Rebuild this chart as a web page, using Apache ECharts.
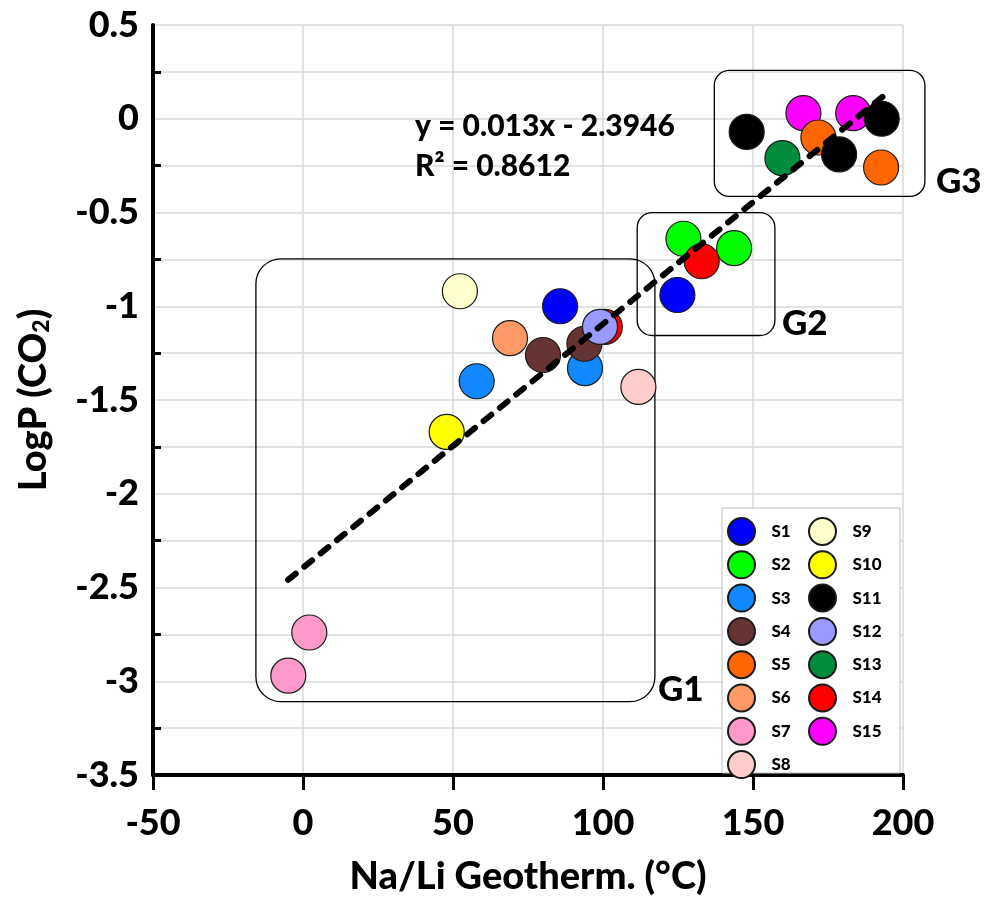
<!DOCTYPE html>
<html>
<head>
<meta charset="utf-8">
<script src="https://cdn.jsdelivr.net/npm/echarts@6/dist/echarts.min.js"></script>
<style>
html,body{margin:0;padding:0;background:#fff;}
#c{width:985px;height:907px;}
</style>
</head>
<body>
<div id="c"></div>
<script>
// ---- data (Na/Li geothermometer °C, LogP CO2) ----
const S1  = [[85.7, -1.00], [124.8, -0.94]];
const S2  = [[126.8, -0.64], [143.7, -0.69]];
const S3  = [[57.9, -1.40], [94.0, -1.33]];
const S4  = [[80.0, -1.26], [93.8, -1.20]];
const S5  = [[171.8, -0.10], [192.7, -0.26]];
const S6  = [[69.0, -1.17]];
const S7  = [[2.1, -2.74], [-4.9, -2.97]];
const S8  = [[111.8, -1.43]];
const S9  = [[52.3, -0.92]];
const S10 = [[47.9, -1.67]];
const S11 = [[147.9, -0.07], [192.9, 0.00], [178.7, -0.19]];
const S12 = [[99.0, -1.11]];
const S13 = [[159.8, -0.21]];
const S14 = [[100.6, -1.11], [132.9, -0.76]];
const S15 = [[166.8, 0.03], [183.4, 0.03]];

const seriesNames = ['S1','S2','S3','S4','S5','S6','S7','S8','S9','S10','S11','S12','S13','S14','S15'];
const seriesColors = ['#0000ff','#00ff00','#1188ff','#663333','#ff6600','#ff9966','#ff99cc','#ffcccc',
                      '#ffffcc','#ffff00','#000000','#9999ff','#008c3c','#ff0000','#ff00ff'];
const seriesData = {S1,S2,S3,S4,S5,S6,S7,S8,S9,S10,S11,S12,S13,S14,S15};
const drawOrder = ['S15','S1','S2','S3','S4','S5','S6','S7','S8','S9','S10','S13','S14','S11','S12'];

// linear trend line
const trendSlope = 0.013;
const trendIntercept = -2.3946;
const trendXRange = [-5, 194];
const equationText = 'y = 0.013x - 2.3946';
const r2Text = 'R² = 0.8612';

// group annotation boxes in data units: [xMin, yMax, xMax, yMin]
const groupBoxes = [
  {name:'G1', box:[-15.7, -0.747, 117.3, -3.109], r:25},
  {name:'G2', box:[111.4, -0.501, 157.3, -1.156], r:15},
  {name:'G3', box:[137.1, 0.258, 207.3, -0.414], r:15}
];

const FONT = 'Lato';
const FW = 900;
const chart = echarts.init(document.getElementById('c'), null, {renderer:'canvas'});

const series = drawOrder.map(function(n){
  const i = seriesNames.indexOf(n);
  return {
    name: n, type:'scatter', data: seriesData[n],
    symbol:'circle', symbolSize:35,
    itemStyle:{color:seriesColors[i], borderColor:'#1a1a1a', borderWidth:1.2, opacity:1},
    emphasis:{disabled:true}, z:2
  };
});
series.push({
  name:'trend', type:'line', symbol:'none', silent:true, z:6,
  data: trendXRange.map(function(x){ return [x, trendSlope*x + trendIntercept]; }),
  lineStyle:{color:'#000', width:6, type:[10,11], cap:'round'}
});

const legendCommon = {
  orient:'vertical', itemWidth:50, itemHeight:27, itemGap:4.3,
  icon:'circle', selectedMode:false, padding:0,
  textStyle:{fontFamily:FONT, fontWeight:FW, fontSize:17, color:'#000'},
  z:5
};

chart.setOption({
  backgroundColor:'#fff',
  animation:false,
  grid:{left:153, right:82, top:25, bottom:132, containLabel:false, outerBoundsMode:'none'},
  xAxis:{
    type:'value', min:-50, max:200, interval:50,
    name:'Na/Li Geotherm. (°C)', nameLocation:'middle', nameGap:83,
    nameTextStyle:{fontFamily:FONT, fontWeight:FW, fontSize:38, color:'#000'},
    axisLine:{show:true, onZero:false, lineStyle:{color:'#000', width:4}},
    axisTick:{show:true, inside:false, length:15, lineStyle:{color:'#000', width:3}},
    axisLabel:{fontFamily:FONT, fontWeight:FW, fontSize:36, color:'#000', margin:30},
    splitLine:{show:true, lineStyle:{color:'#d9d9d9', width:1.5}}
  },
  yAxis:{
    type:'value', min:-3.5, max:0.5, interval:0.5,
    name:'LogP (CO{sub|2})', nameLocation:'middle', nameGap:100, nameRotate:90,
    nameTextStyle:{fontFamily:FONT, fontWeight:FW, fontSize:38, color:'#000',
      rich:{sub:{fontFamily:FONT, fontWeight:FW, fontSize:23, color:'#000', verticalAlign:'bottom', padding:[16,0,0,0]}}},
    axisLine:{show:true, onZero:false, lineStyle:{color:'#000', width:4}},
    axisTick:{show:false, inside:true},
    minorTick:{show:true, splitNumber:2, length:8, lineStyle:{color:'#000', width:3}},
    axisLabel:{fontFamily:FONT, fontWeight:FW, fontSize:36, color:'#000', margin:14},
    splitLine:{show:true, lineStyle:{color:'#d9d9d9', width:1.5}},
    minorSplitLine:{show:true, lineStyle:{color:'#d9d9d9', width:1.5}}
  },
  legend:[
    Object.assign({}, legendCommon, {data:seriesNames.slice(0,8), left:727, top:517}),
    Object.assign({}, legendCommon, {data:seriesNames.slice(8), left:808, top:517})
  ],
  series: series
});

function px(x, y){ return chart.convertToPixel({gridIndex:0}, [x, y]); }

const graphics = [];
// legend frame
graphics.push({type:'rect', z:3, silent:true,
  shape:{x:722, y:508, width:178, height:265},
  style:{fill:'#fff', stroke:'#bfbfbf', lineWidth:1}});
// group boxes and labels
const labelOffsets = {G1:[3, -12], G2:[7, -12], G3:[11, -15]};
groupBoxes.forEach(function(g){
  const p1 = px(g.box[0], g.box[1]);
  const p2 = px(g.box[2], g.box[3]);
  graphics.push({type:'rect', z:1, silent:true,
    shape:{x:p1[0], y:p1[1], width:p2[0]-p1[0], height:p2[1]-p1[1], r:g.r},
    style:{fill:'none', stroke:'#000', lineWidth:1.3}});
  const off = labelOffsets[g.name];
  graphics.push({type:'text', z:1, silent:true,
    x:p2[0]+off[0], y:p2[1]+off[1],
    style:{text:g.name, fontFamily:FONT, fontWeight:FW, fontSize:35, fill:'#000', textVerticalAlign:'middle'}});
});
// regression equation
graphics.push({type:'text', z:7, silent:true, x:415, y:126,
  style:{text:equationText, fontFamily:FONT, fontWeight:FW, fontSize:30, fill:'#000', textVerticalAlign:'middle'}});
graphics.push({type:'text', z:7, silent:true, x:415, y:166,
  style:{text:r2Text, fontFamily:FONT, fontWeight:FW, fontSize:30, fill:'#000', textVerticalAlign:'middle'}});

chart.setOption({graphic:graphics});
</script>
</body>
</html>
